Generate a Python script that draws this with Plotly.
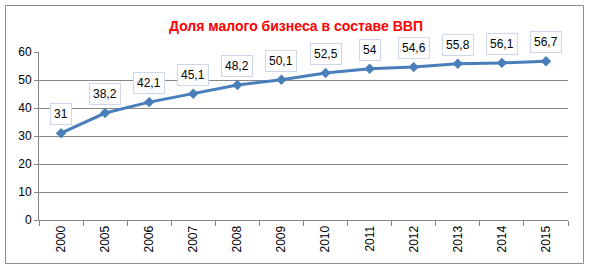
import plotly.graph_objects as go

years = ["2000", "2005", "2006", "2007", "2008", "2009", "2010", "2011", "2012", "2013", "2014", "2015"]
values = [31, 38.2, 42.1, 45.1, 48.2, 50.1, 52.5, 54, 54.6, 55.8, 56.1, 56.7]
title_text = "Доля малого бизнеса в составе ВВП"

W, H = 589, 269
L, R, T, B = 39, 21, 52, 49
pw, ph = W - L - R, H - T - B

fig = go.Figure()
fig.add_trace(go.Scatter(
    x=years, y=values, mode="lines+markers",
    line=dict(color="#4A7EBB", width=3),
    marker=dict(symbol="diamond", size=8, color="#4A7EBB"),
    hoverinfo="skip", showlegend=False,
))

for i, v in enumerate(values):
    fig.add_annotation(
        x=i, y=v, xref="x", yref="y", text=f"{v:g}".replace(".", ","), showarrow=False,
        xanchor="center", yanchor="middle",
        yshift=19, bgcolor="white", bordercolor="#CBD7EA", borderwidth=1,
        borderpad=3, font=dict(family="Liberation Sans, Arial", size=12, color="black"),
    )

fig.add_annotation(
    xref="paper", yref="paper", x=(296 - L) / pw, y=1 + (T - 26) / ph,
    xanchor="center", yanchor="middle",
    text="<b>" + title_text + "</b>", showarrow=False,
    font=dict(family="Liberation Sans, Arial", size=14, color="#FF0000"),
)

fig.add_shape(
    type="rect", xref="paper", yref="paper",
    x0=(5.5 - L) / pw, x1=(583.5 - L) / pw, y0=-(263.5 - (T + ph)) / ph, y1=1 + (T - 5.5) / ph,
    line=dict(color="#8C8C8C", width=1), fillcolor="rgba(0,0,0,0)", layer="above",
)

fig.update_layout(
    width=W, height=H, margin=dict(l=L, r=R, t=T, b=B, autoexpand=False),
    paper_bgcolor="white", plot_bgcolor="white",
    font=dict(family="Liberation Sans, Arial", size=12, color="black"),
    xaxis=dict(
        type="category", tickangle=-90, tickson="boundaries",
        ticks="outside", ticklen=5, tickcolor="#868686",
        showline=True, linecolor="#868686", linewidth=1,
        showgrid=False, range=[-0.5, 11.5], fixedrange=True,
    ),
    yaxis=dict(
        range=[0, 60], dtick=10, ticks="outside", ticklen=4, tickcolor="#868686",
        showline=True, linecolor="#868686", linewidth=1,
        showgrid=True, gridcolor="#868686", gridwidth=1, zeroline=False,
        fixedrange=True,
    ),
)

fig.write_html(
    "out.html",
    config={"displayModeBar": False},
    post_script="document.body.style.margin='0';document.body.style.overflow='hidden';",
)
